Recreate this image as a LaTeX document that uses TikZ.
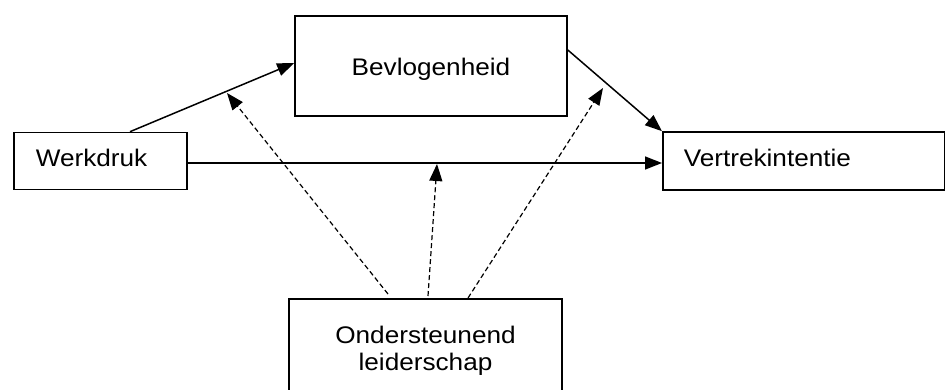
\documentclass[tikz,border=0pt]{standalone}
\usepackage{fontspec}
\setmainfont{Liberation Sans}[FakeStretch=1.09]
\usetikzlibrary{arrows.meta,calc}
\begin{document}
\begin{tikzpicture}[x=1pt,y=-1pt,
  box/.style={draw,line width=1.6pt,rectangle,inner sep=0pt,
    font=\fontsize{24pt}{27pt}\selectfont,text height=17pt,text depth=5pt},
  solidarrow/.style={line width=1.5pt,-{Triangle[length=17pt,width=13pt]}},
  dasharrow/.style={line width=1.2pt,dash pattern=on 5pt off 3pt,-{Triangle[length=17pt,width=13pt]}}]
\clip (0,0) rectangle (945,390);
\node[box,minimum width=272pt,minimum height=100pt,text height=21pt,text depth=1pt] (bev) at (431,66) {Bevlogenheid};
\node[box,anchor=west,minimum height=57pt,text width=129pt,align=left,inner xsep=22pt] (werk) at (13,161) {Werkdruk};
\node[box,anchor=west,minimum height=58pt,text width=240pt,align=left,inner xsep=21pt] (vert) at (662,161) {Vertrekintentie};
\node[box,anchor=north,minimum width=273pt,align=center,text height=,text depth=,inner ysep=27pt] (ond) at (425.5,298) {Ondersteunend\\leiderschap};
\coordinate (m1) at (227,93);
\coordinate (m2) at (437,164);
\coordinate (m3) at (603,88);
\draw[solidarrow] ([xshift=117pt]werk.north west) -- ([yshift=3pt]bev.west);
\draw[solidarrow] ([yshift=16pt]bev.east) -- (vert.north west);
\draw[solidarrow] ([yshift=-2pt]werk.east) -- ([yshift=-2pt]vert.west);
\draw[dasharrow] ([xshift=-37.5pt,yshift=4pt]ond.north) -- (m1);
\draw[dasharrow] ([xshift=2.5pt,yshift=2pt]ond.north) -- (m2);
\draw[dasharrow] ([xshift=42.5pt]ond.north) -- (m3);
\end{tikzpicture}
\end{document}
